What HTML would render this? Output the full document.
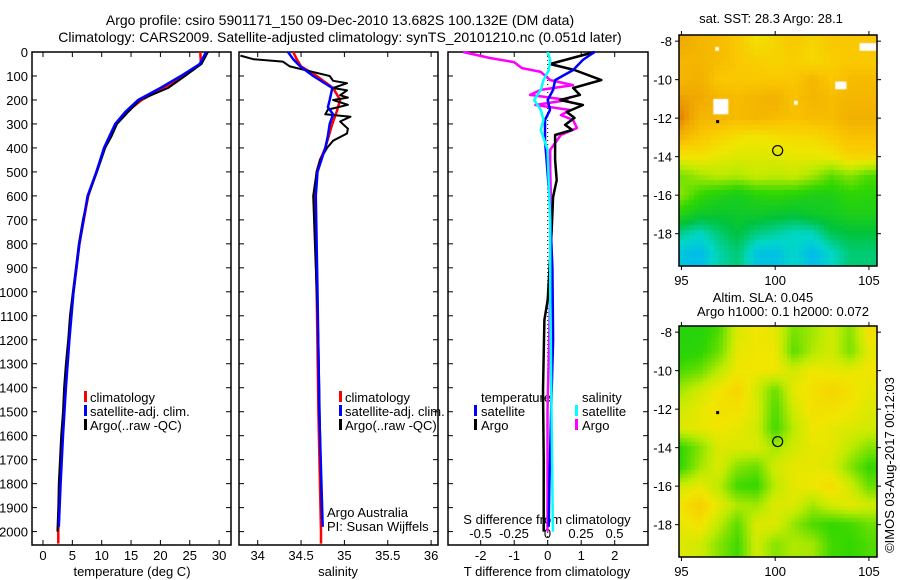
<!DOCTYPE html>
<html><head><meta charset="utf-8">
<style>
html,body{margin:0;padding:0;background:#fff;}
body{width:900px;height:580px;overflow:hidden;position:relative;font-family:"Liberation Sans",sans-serif;}
svg{position:absolute;left:0;top:0;}
canvas{position:absolute;}
text{font-family:"Liberation Sans",sans-serif;font-size:13px;fill:#000;}
</style></head>
<body>
<canvas id="sst" width="198" height="231" style="left:679px;top:35px"></canvas>
<canvas id="sla" width="198" height="231" style="left:679px;top:326px"></canvas>
<svg id="fig" width="900" height="580" xmlns="http://www.w3.org/2000/svg">
<text x="340" y="25" text-anchor="middle" style="font-size:14px">Argo profile: csiro 5901171_150 09-Dec-2010 13.682S 100.132E (DM data)</text>
<text x="340" y="42" text-anchor="middle" style="font-size:14px">Climatology: CARS2009. Satellite-adjusted climatology: synTS_20101210.nc (0.051d later)</text>
<text x="771" y="23" text-anchor="middle">sat. SST: 28.3 Argo: 28.1</text>
<text x="763" y="302" text-anchor="middle">Altim. SLA: 0.045</text>
<text x="783" y="316" text-anchor="middle">Argo h1000: 0.1 h2000: 0.072</text>
<text transform="translate(894,465) rotate(-90)" text-anchor="middle">©IMOS 03-Aug-2017 00:12:03</text>
<text x="90" y="402">climatology</text>
<text x="90" y="416">satellite-adj. clim.</text>
<text x="90" y="430">Argo(..raw -QC)</text>
<text x="345" y="402">climatology</text>
<text x="345" y="416">satellite-adj. clim.</text>
<text x="345" y="430">Argo(..raw -QC)</text>
<text x="327" y="517">Argo Australia</text>
<text x="327" y="531">PI: Susan Wijffels</text>
<text x="481" y="402">temperature</text>
<text x="481" y="416">satellite</text>
<text x="481" y="430">Argo</text>
<text x="582" y="402">salinity</text>
<text x="582" y="416">satellite</text>
<text x="582" y="430">Argo</text>
<text x="547" y="524" text-anchor="middle">S difference from climatology</text>
<text x="132" y="576" text-anchor="middle">temperature (deg C)</text>
<text x="338" y="576" text-anchor="middle">salinity</text>
<text x="547" y="576" text-anchor="middle">T difference from climatology</text>
</svg>
<script>
// ---- data ----
const depthTicks=[0,100,200,300,400,500,600,700,800,900,1000,1100,1200,1300,1400,1500,1600,1700,1800,1900,2000];
const tempTicks=[0,5,10,15,20,25,30];
const salTicks=[34,34.5,35,35.5,36];
const salTickLabels=["34","34.5","35","35.5","36"];
const tdiffTicks=[-2,-1,0,1,2];
const sdiffTicks=[-0.5,-0.25,0,0.25,0.5];
const sdiffTickLabels=["-0.5","-0.25","0","0.25","0.5"];

const argoTDepth=[0,50,100,150,200,250,300,350,400,500,600,700,800,900,1000,1100,1200,1300,1400,1500,1600,1700,1800,1900,2000];
const argoTemp=[28.1,27,24.2,21.3,16.5,14.5,12.6,11.7,10.6,9.2,7.7,6.8,6.1,5.6,5.1,4.6,4.3,3.9,3.6,3.4,3.1,2.9,2.7,2.6,2.45];
const climDepth=[0,50,100,150,200,250,300,400,500,600,800,1000,1200,1400,1600,1800,2000,2050];
const climTemp=[26.8,26.9,23.8,20.5,16.8,14.2,12.4,10.5,9.1,7.7,6.2,5.2,4.4,3.8,3.3,2.9,2.6,2.6];
const satDepth=[0,50,100,150,200,250,300,400,500,600,800,1000,1200,1400,1600,1800,1980];
const satTemp=[27.8,26.7,23.5,20,16.2,14,12.3,10.4,9.1,7.6,6.2,5.2,4.5,3.9,3.4,3.0,2.7];

const argoSDepth=[15,30,40,60,80,100,120,130,150,160,180,190,200,220,240,260,270,290,320,340,370,400,450,500,550,600,800,1000,1200,1400,1600,1800,1950];
const argoSal=[33.8,33.95,34.29,34.37,34.6,34.83,34.87,35.03,34.87,35.03,34.95,35.04,34.87,35.04,34.81,34.78,35.07,34.95,35.04,35.03,34.87,34.8,34.72,34.68,34.66,34.64,34.66,34.68,34.7,34.71,34.72,34.73,34.74];
const climSDepth=[0,30,60,100,150,200,250,300,350,400,450,500,600,1000,1500,2000,2050];
const climSal=[34.41,34.45,34.5,34.68,34.87,34.95,34.91,34.86,34.82,34.78,34.72,34.68,34.66,34.68,34.7,34.73,34.73];
const satSDepth=[0,30,60,100,150,200,230,260,300,350,400,500,600,1000,1500,1980];
const satSal=[34.35,34.41,34.49,34.64,34.86,34.83,34.81,34.87,34.83,34.81,34.78,34.69,34.67,34.69,34.71,34.75];

const dTArgoDepth=[0,50,75,117,150,179,200,221,250,275,304,325,346,388,450,534,604,742,1034,1117,1410,1700,2000];
const dTArgo=[1.4,0.07,0.8,1.6,0.76,0.96,0.37,1.05,0.57,0.8,0.52,0.73,0.22,0.22,0.22,0.27,0.16,0.12,0,-0.1,-0.14,-0.12,-0.12];
const dTSatDepth=[0,33,75,117,158,200,242,283,367,600,900,1200,1500,1800,1980];
const dTSat=[1.4,1.05,0.76,0.22,0.16,0,0.07,-0.08,-0.08,0.05,0.14,0.16,0.1,0.05,0.03];
const dSArgoDepth=[0,25,42,67,83,117,138,158,179,200,221,242,263,283,317,346,408,492,700,1000,1500,2000];
const dSArgo=[-0.63,-0.43,-0.25,-0.19,-0.05,0.02,0.19,-0.05,-0.13,0.15,-0.09,0.17,0.1,0.19,0.22,0.1,0.02,0.02,0.03,0.02,0.0,0.0];
const dSSatDepth=[0,33,75,117,158,200,242,283,325,408,700,1000,1500,2000];
const dSSat=[0,0.02,0.01,-0.03,-0.05,-0.1,-0.05,-0.03,-0.05,0,0.02,0.02,0.03,0.04];

// map grids: rows lat -8..-19, cols lon 95..
const sstGrid=[
[5.5,5.3,5.2,5.0,4.6,4.8,5.0,4.8,5.0,5.0,5.0],
[5.3,5.3,5.2,5.0,4.9,4.8,4.9,4.7,4.9,5.0,5.0],
[5.3,5.4,5.0,5.0,5.0,5.0,5.0,5.3,5.0,5.2,5.2],
[5.6,5.5,5.3,5.2,5.3,5.4,5.1,5.3,5.2,5.3,5.3],
[5.8,5.3,5.3,5.2,5.3,5.2,5.1,5.2,5.2,5.4,5.4],
[5.3,5.0,4.8,4.6,4.5,4.6,4.7,4.7,4.9,5.1,5.1],
[4.5,4.6,4.4,4.3,4.3,4.3,4.4,4.4,4.5,4.8,4.8],
[3.5,3.8,4.0,3.9,4.1,4.0,4.1,3.8,3.3,3.6,3.2],
[3.6,3.0,2.7,2.5,2.8,2.9,2.8,2.6,2.6,2.9,2.8],
[2.7,2.3,2.2,2.3,2.3,2.2,2.1,2.3,2.4,2.6,2.6],
[1.4,1.0,1.6,2.0,1.5,1.3,1.0,1.1,1.8,2.0,2.0],
[0.6,0.4,1.2,1.6,0.6,0.5,1.0,0.4,1.0,1.6,1.6]];
const slaGrid=[
[2.8,2.8,3.2,4.3,4.5,4.4,3.5,3.8,4.2,3.6,4.6],
[2.8,2.9,3.4,4.4,4.5,4.5,3.3,3.9,4.2,3.5,4.4],
[3.2,3.4,4.0,4.5,4.5,4.5,4.2,4.5,4.4,4.4,4.5],
[3.8,4.2,4.5,4.8,4.2,3.4,4.4,4.6,4.8,4.6,4.4],
[4.2,4.4,4.6,4.6,4.3,3.2,4.2,4.6,4.6,4.5,4.3],
[4.3,4.4,4.5,4.4,4.2,3.1,4.0,4.5,4.4,4.3,4.2],
[3.0,3.6,4.3,4.3,4.3,3.8,4.2,4.4,4.4,4.0,3.6],
[3.0,3.8,4.3,3.6,3.4,4.2,4.4,4.4,4.3,3.6,3.0],
[4.2,4.4,4.0,3.1,3.0,4.0,4.4,4.5,4.7,4.2,3.4],
[4.6,4.9,4.4,3.9,3.8,4.3,4.3,3.8,4.2,4.4,4.2],
[4.4,4.6,4.0,3.3,4.3,4.3,3.7,3.2,3.0,3.1,3.4],
[4.3,4.2,3.6,3.1,4.2,3.6,3.9,3.8,3.1,3.0,3.2]];
const argoLon=100.132, argoLat=-13.682;

// ---- geometry ----
const NS="http://www.w3.org/2000/svg";
const svg=document.getElementById('fig');
const PT=52,PB=545;
const yD=d=>52+d*0.2398;
const xT=t=>43+t*5.87;
const xS=s=>257.7+(s-34)*86.7;
const xDT=t=>547.7+t*33.5;
const xDS=s=>547.5+s*134;
function el(tag,attrs){const e=document.createElementNS(NS,tag);for(const k in attrs)e.setAttribute(k,attrs[k]);svg.appendChild(e);return e;}
function txt(x,y,s,anchor){const e=el('text',{x:x,y:y,'text-anchor':anchor||'middle'});e.textContent=s;return e;}

const panels=[{x0:32,x1:231,name:'temperature-panel'},{x0:239,x1:438,name:'salinity-panel'},{x0:448,x1:648,name:'difference-panel'}];
panels.forEach(p=>{
  const r=el('rect',{x:p.x0,y:PT,width:p.x1-p.x0,height:PB-PT,fill:'none',stroke:'#000','stroke-width':1.5});
  
  
  depthTicks.forEach(d=>{
    el('line',{x1:p.x0,x2:p.x0+5,y1:yD(d),y2:yD(d),stroke:'#000'});
    el('line',{x1:p.x1,x2:p.x1-5,y1:yD(d),y2:yD(d),stroke:'#000'});
  });
});
depthTicks.forEach(d=>{
  const t=txt(28,yD(d)+5,String(d),'end');
  
  
});
function xticks(ticks,fx,labels,ly){
  ticks.forEach((v,i)=>{
    const x=fx(v);
    el('line',{x1:x,x2:x,y1:PB,y2:PB-5,stroke:'#000'});
    el('line',{x1:x,x2:x,y1:PT,y2:PT+5,stroke:'#000'});
    const t=txt(x,ly,labels?labels[i]:String(v));
    
    
  });
}
xticks(tempTicks,xT,null,560);
xticks(salTicks,xS,salTickLabels,560);
xticks(tdiffTicks,xDT,null,560);
sdiffTicks.forEach((v,i)=>{
  const t=txt(xDS(v),538,sdiffTickLabels[i]);
  
  
});
// zero dotted line
el('line',{x1:xDT(0),x2:xDT(0),y1:PT,y2:PB,stroke:'#000','stroke-dasharray':'1,3'});

function line(depths,vals,fx,color,w,name){
  const pts=depths.map((d,i)=>fx(vals[i]).toFixed(1)+','+yD(d).toFixed(1)).join(' ');
  const p=el('polyline',{points:pts,fill:'none',stroke:color,'stroke-width':w,'stroke-linejoin':'round'});
  
  
}
line(climDepth,climTemp,xT,'#ff0000',2.5,'temp-climatology-line');
line(argoTDepth,argoTemp,xT,'#000',2,'temp-argo-line');
line(satDepth,satTemp,xT,'#0000ff',2.5,'temp-satellite-line');
line(climSDepth,climSal,xS,'#ff0000',2.5,'sal-climatology-line');
line(argoSDepth,argoSal,xS,'#000',2,'sal-argo-line');
line(satSDepth,satSal,xS,'#0000ff',2.5,'sal-satellite-line');
line(dSArgoDepth,dSArgo,xDS,'#ff00ff',2.5,'sdiff-argo-line');
line(dTArgoDepth,dTArgo,xDT,'#000',2.5,'tdiff-argo-line');
line(dTSatDepth,dTSat,xDT,'#0000ff',2.5,'tdiff-satellite-line');
line(dSSatDepth,dSSat,xDS,'#00ffff',2.5,'sdiff-satellite-line');

// legend markers
[[84,'#f00',397],[84,'#00f',411],[84,'#000',425],[339,'#f00',397],[339,'#00f',411],[339,'#000',425],[474,'#00f',411],[474,'#000',425],[575,'#0ff',411],[575,'#f0f',425]].forEach(m=>{
  const r=el('rect',{x:m[0],y:m[2]-6,width:3,height:11,fill:m[1]});
  
  
});

// ---- maps ----
const LON0=94.87,LON1=105.43,LAT0=-7.68,LAT1=-19.68;
const stops=[[0,[0,170,255]],[1,[0,215,200]],[2,[0,195,60]],[3,[50,215,0]],[4,[190,235,0]],[4.5,[240,230,0]],[5,[250,200,0]],[5.5,[240,170,0]],[6,[220,110,0]],[7,[150,0,0]]];
function cmap(v){
  if(v<=stops[0][0])return stops[0][1];
  for(let i=1;i<stops.length;i++){if(v<=stops[i][0]){const a=stops[i-1],b=stops[i];const f=(v-a[0])/(b[0]-a[0]);return a[1].map((c,k)=>Math.round(c+(b[1][k]-c)*f));}}
  return stops[stops.length-1][1];
}
function sample(g,lon,lat){
  let c=lon-95,r=-8-lat;
  c=Math.max(0,Math.min(g[0].length-1.001,c));r=Math.max(0,Math.min(g.length-1.001,r));
  const c0=Math.floor(c),r0=Math.floor(r),fc=c-c0,fr=r-r0;
  return g[r0][c0]*(1-fc)*(1-fr)+g[r0][c0+1]*fc*(1-fr)+g[r0+1][c0]*(1-fc)*fr+g[r0+1][c0+1]*fc*fr;
}
function drawMap(id,g,block){
  const cv=document.getElementById(id),ctx=cv.getContext('2d');
  const W=cv.width,H=cv.height;
  for(let y=0;y<H;y+=block)for(let x=0;x<W;x+=block){
    const lon=LON0+(x+block/2)/W*(LON1-LON0),lat=LAT0+(y+block/2)/H*(LAT1-LAT0);
    const c=cmap(sample(g,lon,lat));
    ctx.fillStyle='rgb('+c.join(',')+')';ctx.fillRect(x,y,block,block);
  }
}
drawMap('sst',sstGrid,5);
drawMap('sla',slaGrid,4);
// white gaps in SST
(function(){const ctx=document.getElementById('sst').getContext('2d');ctx.fillStyle='#fff';
 [[96.7,-11.8,0.8,0.8],[103.2,-10.5,0.6,0.4],[104.5,-8.5,0.9,0.4],[101,-11.3,0.2,0.2],[96.8,-8.5,0.2,0.2]].forEach(b=>{
  const W=198,H=231;ctx.fillRect((b[0]-LON0)/(LON1-LON0)*W,(b[1]-LAT0)/(LAT1-LAT0)*H,b[2]/(LON1-LON0)*W,b[3]/(LAT1-LAT0)*H);});})();

const maps=[{top:35,name:'sst-map'},{top:326,name:'sla-map'}];
const mx=lon=>679+(lon-LON0)/(LON1-LON0)*198;
maps.forEach(m=>{
  const my=lat=>m.top+(lat-LAT0)/(LAT1-LAT0)*231;
  const r=el('rect',{x:679,y:m.top,width:198,height:231,fill:'none',stroke:'#000','stroke-width':1.5});
  
  
  [95,100,105].forEach(l=>{const x=mx(l);
    el('line',{x1:x,x2:x,y1:m.top,y2:m.top-4,stroke:'#000'});
    el('line',{x1:x,x2:x,y1:m.top+231,y2:m.top+235,stroke:'#000'});
    const t=txt(x,m.top+250,String(l));
    
    });
  [-8,-10,-12,-14,-16,-18].forEach(l=>{const y=my(l);
    el('line',{x1:679,x2:675,y1:y,y2:y,stroke:'#000'});
    el('line',{x1:877,x2:881,y1:y,y2:y,stroke:'#000'});
    const t=txt(672,y+5,String(l).replace('-','-'),'end');
    
    });
  const c=el('circle',{cx:mx(argoLon),cy:my(argoLat),r:5,fill:'none',stroke:'#000','stroke-width':1.2});
  
  
  el('rect',{x:mx(96.85),y:my(-12.1),width:3,height:3,fill:'#000'});
});
</script>
</body></html>
